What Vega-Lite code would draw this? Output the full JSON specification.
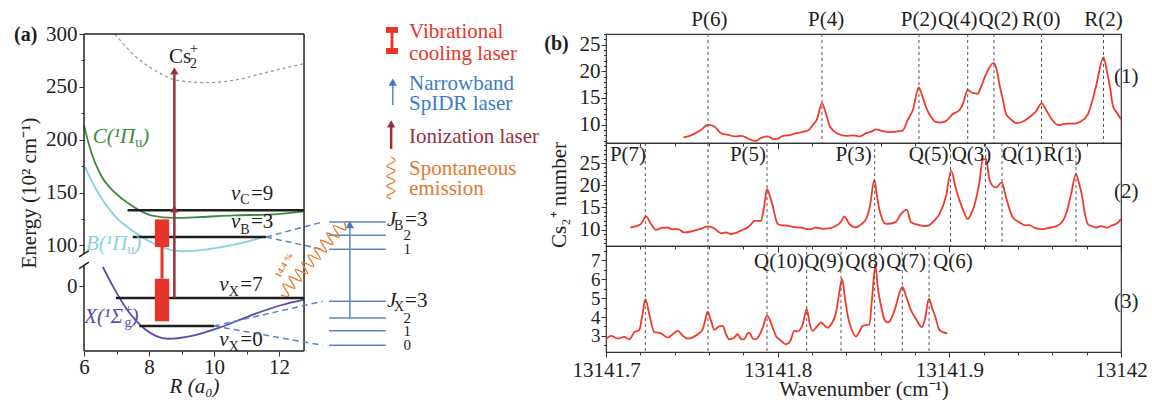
{
  "$schema": "https://vega.github.io/schema/vega-lite/v6.json",
  "background": "white",
  "padding": {"left": 13, "top": 8, "right": 0, "bottom": 0},
  "config": {
    "font": "Liberation Serif",
    "view": {"stroke": "#333", "strokeWidth": 1.2},
    "axis": {"labelFont": "Liberation Serif", "titleFont": "Liberation Serif", "labelFontSize": 21, "titleFontSize": 21, "titleFontWeight": "normal", "labelColor": "#222", "titleColor": "#222", "tickColor": "#333", "domain": false, "grid": false, "labelFlush": false, "labelOverlap": false},
    "text": {"font": "Liberation Serif", "fontSize": 21, "baseline": "middle"}
  },
  "datasets": {
    "ionCurve": [
      {"x": 6.95, "y": 300}, {"x": 7.55, "y": 279.8}, {"x": 8.27, "y": 264}, {"x": 8.88, "y": 256.2}, {"x": 9.8, "y": 253.9}, {"x": 10.62, "y": 256.2}, {"x": 11.65, "y": 264}, {"x": 12.77, "y": 271.9}
    ],
    "states": [
      {"x": 6.0, "y": 213.6, "g": "C"}, {"x": 6.22, "y": 188.3, "g": "C"}, {"x": 6.52, "y": 166.3, "g": "C"}, {"x": 6.93, "y": 150.5, "g": "C"}, {"x": 7.45, "y": 137.9, "g": "C"}, {"x": 8.06, "y": 128.4, "g": "C"}, {"x": 8.78, "y": 125.9, "g": "C"}, {"x": 9.6, "y": 126.8, "g": "C"}, {"x": 10.62, "y": 128.4, "g": "C"}, {"x": 11.65, "y": 129, "g": "C"}, {"x": 12.77, "y": 132.2, "g": "C"},
      {"x": 6.0, "y": 175.7, "g": "B"}, {"x": 6.42, "y": 150.5, "g": "B"}, {"x": 6.93, "y": 128.4, "g": "B"}, {"x": 7.55, "y": 112.6, "g": "B"}, {"x": 8.27, "y": 100, "g": "B"}, {"x": 8.98, "y": 94.4, "g": "B"}, {"x": 9.8, "y": 96.2, "g": "B"}, {"x": 10.62, "y": 100.6, "g": "B"}, {"x": 11.55, "y": 107.9, "g": "B"},
      {"x": 6.58, "y": 79.5, "g": "X"}, {"x": 6.93, "y": 59, "g": "X"}, {"x": 7.34, "y": 38.5, "g": "X"}, {"x": 7.86, "y": 21.1, "g": "X"}, {"x": 8.58, "y": 11.6, "g": "X"}, {"x": 9.39, "y": 14.9, "g": "X"}, {"x": 10.22, "y": 22.7, "g": "X"}, {"x": 11.14, "y": 33.8, "g": "X"}, {"x": 12.06, "y": 43.3, "g": "X"}, {"x": 12.77, "y": 48.6, "g": "X"}
    ],
    "rulesA": [
      {"x": 6, "y": 0, "x2": 6, "y2": 81, "kind": "frame"},
      {"x": 6, "y": 92, "x2": 6, "y2": 300, "kind": "frame"},
      {"x": 12.77, "y": 0, "x2": 12.77, "y2": 300, "kind": "frame"},
      {"x": 6, "y": 300, "x2": 12.77, "y2": 300, "kind": "frame"},
      {"x": 6, "y": 0, "x2": 12.77, "y2": 0, "kind": "frame"},
      {"x": 5.85, "y": 78, "x2": 6.15, "y2": 84, "kind": "frame"},
      {"x": 5.85, "y": 89, "x2": 6.15, "y2": 95, "kind": "frame"},
      {"x": 7.34, "y": 133.2, "x2": 12.77, "y2": 133.2, "kind": "level"},
      {"x": 7.5, "y": 107.9, "x2": 11.6, "y2": 107.9, "kind": "level"},
      {"x": 6.98, "y": 50.2, "x2": 12.77, "y2": 50.2, "kind": "level"},
      {"x": 7.7, "y": 23.7, "x2": 10.0, "y2": 23.7, "kind": "level"},
      {"x": 11.6, "y": 107.9, "x2": 13.34, "y2": 122.1, "kind": "fan"},
      {"x": 11.6, "y": 107.9, "x2": 13.34, "y2": 96.2, "kind": "fan"},
      {"x": 10.0, "y": 23.7, "x2": 13.34, "y2": 47.0, "kind": "fan"},
      {"x": 10.0, "y": 23.7, "x2": 13.34, "y2": 5.4, "kind": "fan"},
      {"x": 13.54, "y": 122.1, "x2": 15.29, "y2": 122.1, "kind": "thin"},
      {"x": 13.54, "y": 109.5, "x2": 15.29, "y2": 109.5, "kind": "thin"},
      {"x": 13.54, "y": 96.2, "x2": 15.29, "y2": 96.2, "kind": "thin"},
      {"x": 13.54, "y": 47.0, "x2": 15.29, "y2": 47.0, "kind": "thin"},
      {"x": 13.54, "y": 31.2, "x2": 15.29, "y2": 31.2, "kind": "thin"},
      {"x": 13.54, "y": 19.2, "x2": 15.29, "y2": 19.2, "kind": "thin"},
      {"x": 13.54, "y": 5.4, "x2": 15.29, "y2": 5.4, "kind": "thin"},
      {"x": 14.18, "y": 31.2, "x2": 14.18, "y2": 118, "kind": "thin"},
      {"x": 15.5, "y": 232.9, "x2": 15.5, "y2": 253, "kind": "thin"},
      {"x": 8.78, "y": 50.2, "x2": 8.78, "y2": 262, "kind": "ion"},
      {"x": 15.45, "y": 191.2, "x2": 15.45, "y2": 213, "kind": "ion"},
      {"x": 8.4, "y": 68.4, "x2": 8.4, "y2": 98.4, "kind": "cool"}
    ],
    "rectsA": [
      {"x": 8.18, "y": 98.4, "x2": 8.62, "y2": 124.6},
      {"x": 8.18, "y": 28.1, "x2": 8.62, "y2": 68.4},
      {"x": 15.29, "y": 301, "x2": 15.66, "y2": 306.6},
      {"x": 15.29, "y": 281.1, "x2": 15.66, "y2": 286.8},
      {"x": 15.43, "y": 286.8, "x2": 15.52, "y2": 301}
    ],
    "headsA": [
      {"x": 8.78, "y": 265, "g": "ion"}, {"x": 8.78, "y": 134.5, "g": "ion"}, {"x": 15.45, "y": 215, "g": "ion"},
      {"x": 14.18, "y": 119.5, "g": "spidr"}, {"x": 15.5, "y": 254.5, "g": "spidr"}
    ],
    "wavesA": [
      {"x": 12.06, "y": 52.88, "k": 0, "id": "w1"}, {"x": 12.30, "y": 52.46, "k": 1, "id": "w1"}, {"x": 12.12, "y": 63.33, "k": 2, "id": "w1"}, {"x": 12.49, "y": 59.37, "k": 3, "id": "w1"}, {"x": 12.31, "y": 70.24, "k": 4, "id": "w1"}, {"x": 12.69, "y": 66.28, "k": 5, "id": "w1"}, {"x": 12.50, "y": 77.15, "k": 6, "id": "w1"}, {"x": 12.88, "y": 73.18, "k": 7, "id": "w1"}, {"x": 12.70, "y": 84.06, "k": 8, "id": "w1"}, {"x": 13.07, "y": 80.09, "k": 9, "id": "w1"}, {"x": 12.89, "y": 90.97, "k": 10, "id": "w1"}, {"x": 13.27, "y": 87.0, "k": 11, "id": "w1"}, {"x": 13.08, "y": 97.88, "k": 12, "id": "w1"}, {"x": 13.46, "y": 93.91, "k": 13, "id": "w1"}, {"x": 13.28, "y": 104.79, "k": 14, "id": "w1"}, {"x": 13.66, "y": 100.82, "k": 15, "id": "w1"}, {"x": 13.47, "y": 111.69, "k": 16, "id": "w1"}, {"x": 13.85, "y": 107.73, "k": 17, "id": "w1"}, {"x": 13.67, "y": 118.6, "k": 18, "id": "w1"}, {"x": 14.04, "y": 114.64, "k": 19, "id": "w1"}, {"x": 14.0, "y": 121.8, "k": 20, "id": "w1"},
      {"x": 15.45, "y": 183.6, "k": 0, "id": "w2"}, {"x": 15.57, "y": 179.8, "k": 1, "id": "w2"}, {"x": 15.32, "y": 175.1, "k": 2, "id": "w2"}, {"x": 15.57, "y": 170.4, "k": 3, "id": "w2"}, {"x": 15.32, "y": 165.6, "k": 4, "id": "w2"}, {"x": 15.57, "y": 160.9, "k": 5, "id": "w2"}, {"x": 15.32, "y": 156.2, "k": 6, "id": "w2"}, {"x": 15.57, "y": 151.4, "k": 7, "id": "w2"}, {"x": 15.32, "y": 146.7, "k": 8, "id": "w2"}, {"x": 15.45, "y": 143.9, "k": 9, "id": "w2"}
    ],
    "tItal": [
      {"x": 6.268, "y": 202.5, "t": "C(¹Π", "g": "C"}, {"x": 7.79, "y": 202.5, "t": ")", "g": "C"},
      {"x": 6.062, "y": 101.5, "t": "B(¹Π", "g": "B"}, {"x": 7.548, "y": 101.5, "t": ")", "g": "B"},
      {"x": 6.009, "y": 32.2, "t": "X(¹Σ", "g": "X"}, {"x": 7.458, "y": 32.2, "t": ")", "g": "X"},
      {"x": 10.523, "y": 148.9, "t": "v", "g": "k"}, {"x": 10.523, "y": 122.1, "t": "v", "g": "k"},
      {"x": 10.163, "y": 62.2, "t": "v", "g": "k"}, {"x": 10.163, "y": 10.1, "t": "v", "g": "k"},
      {"x": 15.323, "y": 124, "t": "J", "g": "k"}, {"x": 15.323, "y": 47.3, "t": "J", "g": "k"}
    ],
    "tSub": [
      {"x": 7.575, "y": 196.8, "t": "u", "g": "C"}, {"x": 7.332, "y": 95.9, "t": "u", "g": "B"},
      {"x": 7.243, "y": 26.5, "t": "g", "g": "X"}, {"x": 7.243, "y": 38.8, "t": "+", "g": "X"},
      {"x": 10.809, "y": 142.6, "t": "C", "g": "k"}, {"x": 10.809, "y": 114.5, "t": "B", "g": "k"},
      {"x": 10.452, "y": 55.8, "t": "X", "g": "k"}, {"x": 10.452, "y": 3.8, "t": "X", "g": "k"},
      {"x": 15.538, "y": 118.3, "t": "B", "g": "k"}, {"x": 15.538, "y": 41.6, "t": "X", "g": "k"},
      {"x": 9.262, "y": 271.6, "t": "2", "g": "k"}, {"x": 9.262, "y": 285.8, "t": "+", "g": "k"}
    ],
    "tPlain": [
      {"x": 11.138, "y": 148.9, "t": "=9", "g": "k"}, {"x": 11.138, "y": 122.1, "t": "=3", "g": "k"},
      {"x": 10.809, "y": 62.2, "t": "=7", "g": "k"}, {"x": 10.809, "y": 10.1, "t": "=0", "g": "k"},
      {"x": 15.877, "y": 124, "t": "=3", "g": "k"}, {"x": 15.877, "y": 47.3, "t": "=3", "g": "k"},
      {"x": 8.615, "y": 278.2, "t": "Cs", "g": "k"},
      {"x": 16.0, "y": 301.9, "t": "Vibrational", "g": "cool"}, {"x": 16.0, "y": 281.4, "t": "cooling laser", "g": "cool"},
      {"x": 16.0, "y": 253, "t": "Narrowband", "g": "spidr"}, {"x": 16.0, "y": 234, "t": "SpIDR laser", "g": "spidr"},
      {"x": 16.0, "y": 202.5, "t": "Ionization laser", "g": "ion"},
      {"x": 16.0, "y": 172.5, "t": "Spontaneous", "g": "emis"}, {"x": 16.0, "y": 153.6, "t": "emission", "g": "emis"}
    ],
    "tJnum": [
      {"x": 15.83, "y": 109.4, "t": "2"}, {"x": 15.83, "y": 96.2, "t": "1"},
      {"x": 15.83, "y": 31.2, "t": "2"}, {"x": 15.83, "y": 18.9, "t": "1"}, {"x": 15.83, "y": 5.7, "t": "0"}
    ],
    "lines1": [{"w": 13141.7594}, {"w": 13141.8258}, {"w": 13141.8823}, {"w": 13141.9107}, {"w": 13141.926}, {"w": 13141.9537}, {"w": 13141.9898}],
    "lines2": [{"w": 13141.7229}, {"w": 13141.7594}, {"w": 13141.7938}, {"w": 13141.8565}, {"w": 13141.9007}, {"w": 13141.9211}, {"w": 13141.9307}, {"w": 13141.9738}],
    "lines3": [{"w": 13141.7229}, {"w": 13141.7594}, {"w": 13141.7938}, {"w": 13141.8169}, {"w": 13141.8369}, {"w": 13141.8565}, {"w": 13141.8726}, {"w": 13141.8882}],
    "lab1": [{"w": 13141.7602, "n": 29.6, "t": "P(6)"}, {"w": 13141.8282, "n": 29.6, "t": "P(4)"}, {"w": 13141.8823, "n": 29.6, "t": "P(2)"}, {"w": 13141.9049, "n": 29.6, "t": "Q(4)"}, {"w": 13141.9286, "n": 29.6, "t": "Q(2)"}, {"w": 13141.9536, "n": 29.6, "t": "R(0)"}, {"w": 13141.9898, "n": 29.6, "t": "R(2)"}, {"w": 13142.003, "n": 18.9, "t": "(1)", "side": 1}],
    "lab2": [{"w": 13141.7128, "n": 26.8, "t": "P(7)"}, {"w": 13141.7827, "n": 26.8, "t": "P(5)"}, {"w": 13141.8442, "n": 26.8, "t": "P(3)"}, {"w": 13141.8879, "n": 26.8, "t": "Q(5)"}, {"w": 13141.9129, "n": 26.8, "t": "Q(3)"}, {"w": 13141.9423, "n": 26.8, "t": "Q(1)"}, {"w": 13141.9659, "n": 26.8, "t": "R(1)"}, {"w": 13142.003, "n": 18.5, "t": "(2)", "side": 1}],
    "lab3": [{"w": 13141.8008, "n": 6.91, "t": "Q(10)"}, {"w": 13141.827, "n": 6.91, "t": "Q(9)"}, {"w": 13141.8509, "n": 6.91, "t": "Q(8)"}, {"w": 13141.8748, "n": 6.91, "t": "Q(7)"}, {"w": 13141.9021, "n": 6.91, "t": "Q(6)"}, {"w": 13142.003, "n": 4.8, "t": "(3)", "side": 1}],
    "spec1": [
      {"w": 13141.7452, "n": 7.6}, {"w": 13141.7495, "n": 8.0}, {"w": 13141.7553, "n": 9.0}, {"w": 13141.7596, "n": 10.0}, {"w": 13141.7635, "n": 9.55}, {"w": 13141.7674, "n": 8.3}, {"w": 13141.771, "n": 8.1}, {"w": 13141.7751, "n": 7.8}, {"w": 13141.779, "n": 7.9}, {"w": 13141.7827, "n": 7.4}, {"w": 13141.7868, "n": 6.9}, {"w": 13141.7903, "n": 7.5}, {"w": 13141.7944, "n": 7.8}, {"w": 13141.7975, "n": 7.3}, {"w": 13141.8002, "n": 7.4}, {"w": 13141.803, "n": 7.9}, {"w": 13141.806, "n": 8.0}, {"w": 13141.81, "n": 8.3}, {"w": 13141.814, "n": 8.6}, {"w": 13141.8177, "n": 8.9}, {"w": 13141.8206, "n": 10.0}, {"w": 13141.8229, "n": 11.0}, {"w": 13141.8258, "n": 14.0}, {"w": 13141.8282, "n": 12.0}, {"w": 13141.8305, "n": 9.6}, {"w": 13141.8351, "n": 8.3}, {"w": 13141.8398, "n": 7.9}, {"w": 13141.8442, "n": 8.0}, {"w": 13141.8476, "n": 7.8}, {"w": 13141.8515, "n": 8.4}, {"w": 13141.8545, "n": 8.7}, {"w": 13141.8573, "n": 9.1}, {"w": 13141.8602, "n": 8.9}, {"w": 13141.8649, "n": 8.6}, {"w": 13141.8689, "n": 8.7}, {"w": 13141.8728, "n": 8.9}, {"w": 13141.8759, "n": 11.0}, {"w": 13141.8787, "n": 12.7}, {"w": 13141.8822, "n": 17.0}, {"w": 13141.8841, "n": 15.5}, {"w": 13141.8864, "n": 13.3}, {"w": 13141.8893, "n": 11.5}, {"w": 13141.8922, "n": 10.5}, {"w": 13141.895, "n": 10.4}, {"w": 13141.8981, "n": 10.7}, {"w": 13141.902, "n": 12.0}, {"w": 13141.9058, "n": 12.7}, {"w": 13141.908, "n": 14.0}, {"w": 13141.9107, "n": 16.5}, {"w": 13141.9132, "n": 16.0}, {"w": 13141.9165, "n": 15.8}, {"w": 13141.9184, "n": 17.0}, {"w": 13141.9214, "n": 19.5}, {"w": 13141.9258, "n": 21.6}, {"w": 13141.9278, "n": 20.0}, {"w": 13141.9291, "n": 17.7}, {"w": 13141.9313, "n": 14.5}, {"w": 13141.933, "n": 12.0}, {"w": 13141.9359, "n": 11.0}, {"w": 13141.9388, "n": 10.3}, {"w": 13141.9429, "n": 10.6}, {"w": 13141.9466, "n": 11.4}, {"w": 13141.9505, "n": 12.5}, {"w": 13141.9538, "n": 14.0}, {"w": 13141.9563, "n": 12.8}, {"w": 13141.9592, "n": 11.2}, {"w": 13141.9636, "n": 9.9}, {"w": 13141.9665, "n": 10.1}, {"w": 13141.9691, "n": 10.2}, {"w": 13141.973, "n": 10.2}, {"w": 13141.9761, "n": 10.5}, {"w": 13141.9808, "n": 12.0}, {"w": 13141.9853, "n": 17.0}, {"w": 13141.9898, "n": 22.6}, {"w": 13141.9918, "n": 20.0}, {"w": 13141.9936, "n": 17.0}, {"w": 13141.9953, "n": 13.5}, {"w": 13141.9977, "n": 12.2}, {"w": 13142.0, "n": 11.0}
    ],
    "spec2": [
      {"w": 13141.7142, "n": 10.5}, {"w": 13141.7175, "n": 10.8}, {"w": 13141.7204, "n": 11.3}, {"w": 13141.7233, "n": 13.0}, {"w": 13141.7262, "n": 11.3}, {"w": 13141.7291, "n": 10.0}, {"w": 13141.7326, "n": 10.4}, {"w": 13141.7359, "n": 10.5}, {"w": 13141.7384, "n": 10.1}, {"w": 13141.7418, "n": 10.15}, {"w": 13141.7456, "n": 9.4}, {"w": 13141.7495, "n": 9.6}, {"w": 13141.7534, "n": 10.0}, {"w": 13141.7559, "n": 10.3}, {"w": 13141.7592, "n": 10.75}, {"w": 13141.7631, "n": 10.3}, {"w": 13141.767, "n": 9.2}, {"w": 13141.7699, "n": 9.4}, {"w": 13141.7728, "n": 9.0}, {"w": 13141.7757, "n": 9.3}, {"w": 13141.7786, "n": 9.8}, {"w": 13141.7825, "n": 10.5}, {"w": 13141.7845, "n": 11.2}, {"w": 13141.7864, "n": 12.0}, {"w": 13141.7903, "n": 12.0}, {"w": 13141.792, "n": 15.0}, {"w": 13141.7938, "n": 19.1}, {"w": 13141.7955, "n": 17.5}, {"w": 13141.7971, "n": 15.4}, {"w": 13141.8, "n": 11.3}, {"w": 13141.8025, "n": 11.0}, {"w": 13141.8058, "n": 10.9}, {"w": 13141.8095, "n": 10.6}, {"w": 13141.8136, "n": 10.5}, {"w": 13141.8165, "n": 10.2}, {"w": 13141.8194, "n": 10.15}, {"w": 13141.8223, "n": 10.5}, {"w": 13141.8264, "n": 10.2}, {"w": 13141.8301, "n": 10.3}, {"w": 13141.834, "n": 10.9}, {"w": 13141.8369, "n": 11.8}, {"w": 13141.8388, "n": 13.0}, {"w": 13141.8417, "n": 11.3}, {"w": 13141.8456, "n": 10.5}, {"w": 13141.8485, "n": 11.2}, {"w": 13141.8515, "n": 12.4}, {"w": 13141.8538, "n": 15.4}, {"w": 13141.8563, "n": 21.2}, {"w": 13141.8579, "n": 17.5}, {"w": 13141.8592, "n": 14.65}, {"w": 13141.8631, "n": 11.3}, {"w": 13141.866, "n": 11.4}, {"w": 13141.8689, "n": 11.8}, {"w": 13141.8718, "n": 13.5}, {"w": 13141.8752, "n": 14.5}, {"w": 13141.8777, "n": 11.7}, {"w": 13141.8825, "n": 11.05}, {"w": 13141.8852, "n": 10.8}, {"w": 13141.8883, "n": 11.05}, {"w": 13141.8911, "n": 12.0}, {"w": 13141.8942, "n": 13.5}, {"w": 13141.8981, "n": 17.6}, {"w": 13141.901, "n": 23.3}, {"w": 13141.9039, "n": 19.1}, {"w": 13141.9078, "n": 14.65}, {"w": 13141.9107, "n": 12.4}, {"w": 13141.9126, "n": 13.5}, {"w": 13141.9145, "n": 15.4}, {"w": 13141.9175, "n": 20.65}, {"w": 13141.9194, "n": 25.7}, {"w": 13141.9214, "n": 25.9}, {"w": 13141.9233, "n": 21.4}, {"w": 13141.9249, "n": 20.0}, {"w": 13141.9272, "n": 19.5}, {"w": 13141.9305, "n": 20.65}, {"w": 13141.933, "n": 17.3}, {"w": 13141.9369, "n": 12.8}, {"w": 13141.9408, "n": 11.7}, {"w": 13141.9443, "n": 11.0}, {"w": 13141.9466, "n": 11.05}, {"w": 13141.9493, "n": 10.5}, {"w": 13141.9524, "n": 10.15}, {"w": 13141.9557, "n": 10.2}, {"w": 13141.9592, "n": 10.5}, {"w": 13141.9625, "n": 10.8}, {"w": 13141.9662, "n": 12.0}, {"w": 13141.9682, "n": 13.8}, {"w": 13141.9709, "n": 18.0}, {"w": 13141.9738, "n": 22.5}, {"w": 13141.9755, "n": 20.5}, {"w": 13141.9773, "n": 17.6}, {"w": 13141.979, "n": 13.5}, {"w": 13141.9808, "n": 11.2}, {"w": 13141.9831, "n": 10.8}, {"w": 13141.9853, "n": 10.45}, {"w": 13141.9883, "n": 10.8}, {"w": 13141.9921, "n": 10.45}, {"w": 13141.9942, "n": 10.9}, {"w": 13141.9965, "n": 11.2}, {"w": 13141.9988, "n": 11.8}, {"w": 13142.0, "n": 12.5}
    ],
    "spec3": [
      {"w": 13141.7, "n": 2.82}, {"w": 13141.7029, "n": 3.0}, {"w": 13141.7068, "n": 2.86}, {"w": 13141.7107, "n": 2.95}, {"w": 13141.7136, "n": 2.82}, {"w": 13141.7165, "n": 3.2}, {"w": 13141.7194, "n": 3.32}, {"w": 13141.721, "n": 4.0}, {"w": 13141.7229, "n": 4.95}, {"w": 13141.7252, "n": 4.15}, {"w": 13141.7281, "n": 3.2}, {"w": 13141.732, "n": 3.14}, {"w": 13141.7359, "n": 2.91}, {"w": 13141.739, "n": 3.1}, {"w": 13141.7418, "n": 3.27}, {"w": 13141.7449, "n": 3.0}, {"w": 13141.7476, "n": 2.86}, {"w": 13141.7534, "n": 3.09}, {"w": 13141.7563, "n": 3.35}, {"w": 13141.7577, "n": 3.8}, {"w": 13141.7592, "n": 4.28}, {"w": 13141.7612, "n": 3.8}, {"w": 13141.7631, "n": 3.32}, {"w": 13141.7658, "n": 3.5}, {"w": 13141.768, "n": 3.53}, {"w": 13141.7699, "n": 3.1}, {"w": 13141.7718, "n": 2.82}, {"w": 13141.7746, "n": 2.9}, {"w": 13141.7767, "n": 3.09}, {"w": 13141.7786, "n": 2.85}, {"w": 13141.7806, "n": 2.82}, {"w": 13141.7821, "n": 3.1}, {"w": 13141.7835, "n": 3.18}, {"w": 13141.7856, "n": 2.85}, {"w": 13141.7874, "n": 2.82}, {"w": 13141.7891, "n": 3.0}, {"w": 13141.7913, "n": 3.44}, {"w": 13141.7938, "n": 4.07}, {"w": 13141.7971, "n": 3.44}, {"w": 13141.799, "n": 3.0}, {"w": 13141.801, "n": 2.82}, {"w": 13141.8031, "n": 2.65}, {"w": 13141.8049, "n": 2.55}, {"w": 13141.8072, "n": 2.7}, {"w": 13141.8097, "n": 3.27}, {"w": 13141.8118, "n": 3.25}, {"w": 13141.8146, "n": 3.62}, {"w": 13141.8169, "n": 4.42}, {"w": 13141.8188, "n": 3.6}, {"w": 13141.8204, "n": 3.27}, {"w": 13141.8229, "n": 3.5}, {"w": 13141.8252, "n": 3.71}, {"w": 13141.8291, "n": 3.44}, {"w": 13141.8317, "n": 3.7}, {"w": 13141.834, "n": 4.24}, {"w": 13141.8357, "n": 5.2}, {"w": 13141.8375, "n": 6.02}, {"w": 13141.8392, "n": 5.0}, {"w": 13141.8408, "n": 4.07}, {"w": 13141.8433, "n": 3.3}, {"w": 13141.8456, "n": 2.96}, {"w": 13141.8474, "n": 3.2}, {"w": 13141.8495, "n": 3.53}, {"w": 13141.8534, "n": 3.62}, {"w": 13141.855, "n": 5.0}, {"w": 13141.8569, "n": 6.73}, {"w": 13141.8584, "n": 5.5}, {"w": 13141.8602, "n": 4.6}, {"w": 13141.8624, "n": 3.82}, {"w": 13141.8641, "n": 3.71}, {"w": 13141.867, "n": 4.08}, {"w": 13141.8689, "n": 4.6}, {"w": 13141.8707, "n": 5.2}, {"w": 13141.8726, "n": 5.6}, {"w": 13141.8748, "n": 5.1}, {"w": 13141.8777, "n": 4.35}, {"w": 13141.8806, "n": 3.9}, {"w": 13141.884, "n": 3.46}, {"w": 13141.8858, "n": 3.9}, {"w": 13141.8881, "n": 4.97}, {"w": 13141.8899, "n": 4.5}, {"w": 13141.8919, "n": 3.99}, {"w": 13141.8942, "n": 3.32}, {"w": 13141.8963, "n": 3.2}, {"w": 13141.8988, "n": 3.14}
    ]
  },
  "bounds": "flush",
  "spacing": 65,
  "hconcat": [
    {
      "width": 457,
      "height": 317,
      "view": {"stroke": null},
      "encoding": {
        "x": {
          "field": "x", "type": "quantitative",
          "scale": {"domain": [6, 20.06], "nice": false, "zero": false},
          "axis": {
            "values": [6, 7, 8, 9, 10, 11, 12],
            "labelExpr": "datum.value % 2 === 0 ? datum.label : ''",
            "tickSize": {"condition": {"test": "datum.value % 2 === 0", "value": 5}, "value": 3},
            "labelPadding": 0,
            "title": "R (a₀)", "titleFontStyle": "italic", "titleX": 110, "titlePadding": -2
          }
        },
        "y": {
          "field": "y", "type": "quantitative",
          "scale": {"domain": [0, 300], "nice": false, "zero": false},
          "axis": {
            "values": [61.5, 100, 125, 150, 175, 200, 225, 250, 275, 300],
            "labelExpr": "datum.value < 90 ? '0' : (datum.value % 50 === 0 ? datum.label : '')",
            "tickSize": {"condition": {"test": "datum.value % 50 === 0 || datum.value < 90", "value": 5}, "value": 3},
            "labelPadding": 2,
            "title": "Energy (10² cm⁻¹)", "titlePadding": 6
          }
        }
      },
      "layer": [
        {"data": {"name": "ionCurve"}, "mark": {"type": "line", "color": "#9a9a9a", "strokeDash": [3, 3], "strokeWidth": 1.3, "interpolate": "monotone"}, "encoding": {}},
        {"data": {"name": "states"}, "mark": {"type": "line", "strokeWidth": 1.8, "interpolate": "monotone"},
         "encoding": {"color": {"field": "g", "type": "nominal", "legend": null, "scale": {"domain": ["k", "ion", "C", "B", "X", "cool", "spidr", "emis"], "range": ["#1e1e1e", "#9b2f3e", "#3d8b3d", "#86d2de", "#5a4ba8", "#e8352b", "#3e7cc4", "#e07a2e"]}}}},
        {"data": {"name": "rulesA"}, "transform": [{"filter": "datum.kind === 'frame'"}], "mark": {"type": "rule", "color": "#222", "strokeWidth": 1.5}, "encoding": {"x2": {"field": "x2"}, "y2": {"field": "y2"}}},
        {"data": {"name": "rulesA"}, "transform": [{"filter": "datum.kind === 'level'"}], "mark": {"type": "rule", "color": "#1e1e1e", "strokeWidth": 2.5}, "encoding": {"x2": {"field": "x2"}, "y2": {"field": "y2"}}},
        {"data": {"name": "rulesA"}, "transform": [{"filter": "datum.kind === 'fan'"}], "mark": {"type": "rule", "color": "#5b86c2", "strokeWidth": 1.5, "strokeDash": [6, 4]}, "encoding": {"x2": {"field": "x2"}, "y2": {"field": "y2"}}},
        {"data": {"name": "rulesA"}, "transform": [{"filter": "datum.kind === 'thin'"}], "mark": {"type": "rule", "color": "#5b86c2", "strokeWidth": 1.5}, "encoding": {"x2": {"field": "x2"}, "y2": {"field": "y2"}}},
        {"data": {"name": "rulesA"}, "transform": [{"filter": "datum.kind === 'ion'"}], "mark": {"type": "rule", "color": "#9b2f3e", "strokeWidth": 2.5}, "encoding": {"x2": {"field": "x2"}, "y2": {"field": "y2"}}},
        {"data": {"name": "rulesA"}, "transform": [{"filter": "datum.kind === 'cool'"}], "mark": {"type": "rule", "color": "#e8352b", "strokeWidth": 3}, "encoding": {"x2": {"field": "x2"}, "y2": {"field": "y2"}}},
        {"data": {"name": "wavesA"}, "mark": {"type": "line", "color": "#e07a2e", "strokeWidth": 1.3, "interpolate": "cardinal"},
         "encoding": {"order": {"field": "k", "type": "quantitative"}, "detail": {"field": "id", "type": "nominal"}}},
        {"data": {"name": "rectsA"}, "mark": {"type": "rect", "color": "#e8352b"}, "encoding": {"x2": {"field": "x2"}, "y2": {"field": "y2"}}},
        {"data": {"name": "headsA"}, "mark": {"type": "point", "shape": "triangle-up", "filled": true, "size": 70, "opacity": 1},
         "encoding": {"color": {"field": "g", "type": "nominal", "legend": null, "scale": {"domain": ["k", "ion", "C", "B", "X", "cool", "spidr", "emis"], "range": ["#1e1e1e", "#9b2f3e", "#3d8b3d", "#86d2de", "#5a4ba8", "#e8352b", "#3e7cc4", "#e07a2e"]}}}},
        {"data": {"name": "tItal"}, "mark": {"type": "text", "align": "left", "fontStyle": "italic", "fontSize": 21},
         "encoding": {"text": {"field": "t"}, "color": {"field": "g", "type": "nominal", "legend": null, "scale": {"domain": ["k", "ion", "C", "B", "X", "cool", "spidr", "emis"], "range": ["#1e1e1e", "#9b2f3e", "#3d8b3d", "#86d2de", "#5a4ba8", "#e8352b", "#3e7cc4", "#e07a2e"]}}}},
        {"data": {"name": "tSub"}, "mark": {"type": "text", "align": "left", "fontSize": 14},
         "encoding": {"text": {"field": "t"}, "color": {"field": "g", "type": "nominal", "legend": null, "scale": {"domain": ["k", "ion", "C", "B", "X", "cool", "spidr", "emis"], "range": ["#1e1e1e", "#9b2f3e", "#3d8b3d", "#86d2de", "#5a4ba8", "#e8352b", "#3e7cc4", "#e07a2e"]}}}},
        {"data": {"name": "tPlain"}, "mark": {"type": "text", "align": "left", "fontSize": 21},
         "encoding": {"text": {"field": "t"}, "color": {"field": "g", "type": "nominal", "legend": null, "scale": {"domain": ["k", "ion", "C", "B", "X", "cool", "spidr", "emis"], "range": ["#1e1e1e", "#9b2f3e", "#3d8b3d", "#86d2de", "#5a4ba8", "#e8352b", "#3e7cc4", "#e07a2e"]}}}},
        {"data": {"name": "tJnum"}, "mark": {"type": "text", "align": "left", "fontSize": 15, "color": "#1e1e1e"}, "encoding": {"text": {"field": "t"}}},
        {"data": {"values": [{"x": 3.846, "y": 299, "t": "(a)"}]}, "mark": {"type": "text", "align": "left", "fontWeight": "bold", "fontSize": 20, "color": "#1e1e1e"}, "encoding": {"text": {"field": "t"}}},
        {"data": {"values": [{"x": 12.154, "y": 81.4, "t": "14.4 %"}]}, "mark": {"type": "text", "angle": 300, "fontWeight": "bold", "fontSize": 9, "color": "#e07a2e"}, "encoding": {"text": {"field": "t"}}}
      ]
    },
    {
      "bounds": "flush",
      "spacing": 0,
      "vconcat": [
        {
          "width": 515,
          "height": 109,
          "encoding": {
            "x": {"field": "w", "type": "quantitative", "scale": {"domain": [13141.7, 13142], "nice": false, "zero": false},
              "axis": {"values": [13141.7, 13141.72, 13141.74, 13141.76, 13141.78, 13141.8, 13141.82, 13141.84, 13141.86, 13141.88, 13141.9, 13141.92, 13141.94, 13141.96, 13141.98, 13142], "labels": false, "title": null,
                "tickSize": {"condition": {"test": "abs(datum.value * 10 - round(datum.value * 10)) < 0.01", "value": 6}, "value": 3}}},
            "y": {"field": "n", "type": "quantitative", "scale": {"domain": [6.56, 27], "nice": false, "zero": false},
              "axis": {"values": [7, 8, 9, 10, 11, 12, 13, 14, 15, 16, 17, 18, 19, 20, 21, 22, 23, 24, 25, 26, 27], "labelExpr": "datum.value % 5 === 0 ? datum.label : ''", "tickSize": {"condition": {"test": "datum.value % 5 === 0", "value": 5}, "value": 2.5}, "labelPadding": 1, "title": null}}
          },
          "layer": [
            {"data": {"name": "spec1"}, "mark": {"type": "line", "color": "#f2392c", "strokeWidth": 1.8, "interpolate": "monotone"}, "encoding": {}},
            {"data": {"name": "lab1"}, "mark": {"type": "text", "fontSize": 21, "color": "#1e1e1e"},
             "encoding": {"text": {"field": "t"}, "align": {"condition": {"test": "datum.side === 1", "value": "left"}, "value": "center"}}},
            {"data": {"values": [{"w": 13141.6712, "n": 25.1, "t": "(b)"}]}, "mark": {"type": "text", "fontSize": 20, "fontWeight": "bold", "color": "#1e1e1e"},
             "encoding": {"text": {"field": "t"}}},
            {"data": {"name": "lines1"}, "mark": {"type": "rule", "color": "#555", "strokeDash": [3, 3], "strokeWidth": 1},
             "encoding": {"y": {"value": 0}, "y2": {"value": 109}}}
          ]
        },
        {
          "width": 515,
          "height": 103,
          "encoding": {
            "x": {"field": "w", "type": "quantitative", "scale": {"domain": [13141.7, 13142], "nice": false, "zero": false},
              "axis": {"values": [13141.7, 13141.72, 13141.74, 13141.76, 13141.78, 13141.8, 13141.82, 13141.84, 13141.86, 13141.88, 13141.9, 13141.92, 13141.94, 13141.96, 13141.98, 13142], "labels": false, "title": null,
                "tickSize": {"condition": {"test": "abs(datum.value * 10 - round(datum.value * 10)) < 0.01", "value": 6}, "value": 3}}},
            "y": {"field": "n", "type": "quantitative", "scale": {"domain": [6.34, 29.5], "nice": false, "zero": false},
              "axis": {"values": [7, 8, 9, 10, 11, 12, 13, 14, 15, 16, 17, 18, 19, 20, 21, 22, 23, 24, 25, 26, 27, 28, 29], "labelExpr": "datum.value % 5 === 0 ? datum.label : ''", "tickSize": {"condition": {"test": "datum.value % 5 === 0", "value": 5}, "value": 2.5}, "labelPadding": 1, "title": "Cs₂⁺ number", "titlePadding": 10}}
          },
          "layer": [
            {"data": {"name": "spec2"}, "mark": {"type": "line", "color": "#f2392c", "strokeWidth": 1.8, "interpolate": "monotone"}, "encoding": {}},
            {"data": {"name": "lab2"}, "mark": {"type": "text", "fontSize": 21, "color": "#1e1e1e"},
             "encoding": {"text": {"field": "t"}, "align": {"condition": {"test": "datum.side === 1", "value": "left"}, "value": "center"}}},
            {"data": {"name": "lines2"}, "mark": {"type": "rule", "color": "#555", "strokeDash": [3, 3], "strokeWidth": 1},
             "encoding": {"y": {"value": 0}, "y2": {"value": 103}}}
          ]
        },
        {
          "width": 515,
          "height": 106,
          "encoding": {
            "x": {"field": "w", "type": "quantitative", "scale": {"domain": [13141.7, 13142], "nice": false, "zero": false},
              "axis": {"values": [13141.7, 13141.72, 13141.74, 13141.76, 13141.78, 13141.8, 13141.82, 13141.84, 13141.86, 13141.88, 13141.9, 13141.92, 13141.94, 13141.96, 13141.98, 13142],
                "labelExpr": "abs(datum.value * 10 - round(datum.value * 10)) < 0.01 ? format(datum.value, '.1~f') : ''",
                "tickSize": {"condition": {"test": "abs(datum.value * 10 - round(datum.value * 10)) < 0.01", "value": 5}, "value": 3},
                "labelPadding": 2, "title": "Wavenumber (cm⁻¹)", "titlePadding": -2}},
            "y": {"field": "n", "type": "quantitative", "scale": {"domain": [2.15, 7.76], "nice": false, "zero": false},
              "axis": {"values": [2.5, 3, 3.5, 4, 4.5, 5, 5.5, 6, 6.5, 7, 7.5], "labelExpr": "datum.value % 1 === 0 ? format(datum.value, 'd') : ''", "labelFontSize": 19, "tickSize": {"condition": {"test": "datum.value % 1 === 0", "value": 5}, "value": 2.5}, "labelPadding": 1, "title": null}}
          },
          "layer": [
            {"data": {"name": "spec3"}, "mark": {"type": "line", "color": "#f2392c", "strokeWidth": 1.8, "interpolate": "monotone"}, "encoding": {}},
            {"data": {"name": "lab3"}, "mark": {"type": "text", "fontSize": 21, "color": "#1e1e1e"},
             "encoding": {"text": {"field": "t"}, "align": {"condition": {"test": "datum.side === 1", "value": "left"}, "value": "center"}}},
            {"data": {"name": "lines3"}, "mark": {"type": "rule", "color": "#555", "strokeDash": [3, 3], "strokeWidth": 1},
             "encoding": {"y": {"value": 0}, "y2": {"value": 106}}}
          ]
        }
      ]
    }
  ]
}
